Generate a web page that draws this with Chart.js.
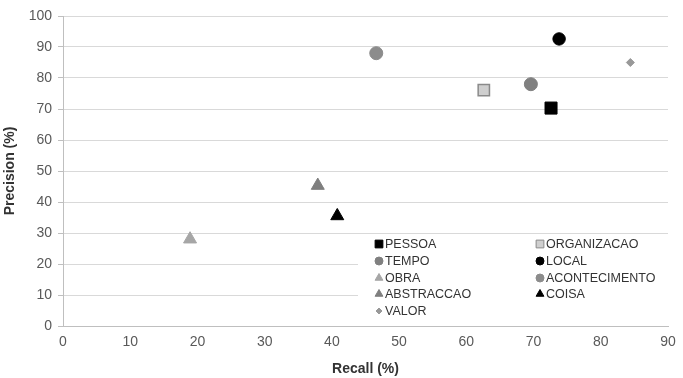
<!DOCTYPE html>
<html>
<head>
<meta charset="utf-8">
<script src="https://cdn.jsdelivr.net/npm/chart.js@4"></script>
<style>
  html, body { margin: 0; padding: 0; background: #fff; }
  #wrap { width: 683px; height: 378px; position: relative; }
</style>
</head>
<body>
<div id="wrap"><canvas id="chart" width="683" height="378"></canvas></div>
<script>
// recall (x) / precision (y) per category
const categories = ['PESSOA', 'ORGANIZACAO', 'TEMPO', 'LOCAL', 'OBRA', 'ACONTECIMENTO', 'ABSTRACCAO', 'COISA', 'VALOR'];
const recall    = [72.6, 62.6, 69.6, 73.8, 18.9, 46.6, 37.9, 40.8, 84.4];
const precision = [70.3, 76.1, 78.0, 92.6, 28.0, 88.0, 45.3, 35.5, 85.0];

const shapes  = ['rect', 'rect', 'circle', 'circle', 'triangle', 'circle', 'triangle', 'triangle', 'rectRot'];
const fills   = ['#000000', '#cfcfcf', '#808080', '#000000', '#a6a6a6', '#8c8c8c', '#7f7f7f', '#000000', '#999999'];
const borders = ['#000000', '#8a8a8a', '#808080', '#000000', '#a6a6a6', '#8c8c8c', '#7f7f7f', '#000000', '#999999'];
const sizes   = [8.5, 8, 6.5, 6.2, 7.5, 6.5, 7.5, 7.5, 4];

const datasets = categories.map((c, i) => ({
  label: c,
  data: [{ x: recall[i], y: precision[i] }],
  pointStyle: shapes[i],
  backgroundColor: fills[i],
  borderColor: borders[i],
  borderWidth: i === 1 ? 1.5 : 1,
  pointRadius: sizes[i],
  pointHoverRadius: sizes[i]
}));

const font = '"Liberation Sans", Arial, sans-serif';

// legend drawn inside the plot, on a white box
const boxLegend = {
  id: 'boxLegend',
  afterDatasetsDraw(chart) {
    const ctx = chart.ctx;
    const a = chart.chartArea;
    ctx.save();
    ctx.fillStyle = '#ffffff';
    ctx.fillRect(358, 237, a.right - 358, a.bottom - 237 - 1);
    ctx.font = '12.5px ' + font;
    ctx.textBaseline = 'middle';
    const cols = [379, 540];
    const rows = [244, 261, 278, 294, 311];
    chart.data.datasets.forEach((ds, i) => {
      const cx = cols[i % 2];
      const cy = rows[Math.floor(i / 2)];
      ctx.fillStyle = ds.backgroundColor;
      ctx.strokeStyle = ds.borderColor;
      ctx.lineWidth = 1;
      let r = 4;
      if (ds.pointStyle === 'rect') r = 5.5;
      if (ds.pointStyle === 'triangle') r = 4.5;
      if (ds.pointStyle === 'rectRot') r = 3;
      Chart.helpers.drawPoint(ctx, { pointStyle: ds.pointStyle, radius: r, rotation: 0, borderWidth: 1 }, cx, cy);
      ctx.fillStyle = '#333333';
      ctx.fillText(ds.label, cx + 6, cy + 1);
    });
    ctx.restore();
  }
};

new Chart(document.getElementById('chart'), {
  type: 'scatter',
  data: { datasets: datasets },
  options: {
    responsive: false,
    animation: false,
    layout: { padding: { top: 16, right: 15, left: 2, bottom: 0 } },
    plugins: { legend: { display: false }, tooltip: { enabled: false } },
    scales: {
      x: {
        min: 0, max: 90,
        ticks: { stepSize: 10, color: '#595959', font: { size: 14, family: font }, padding: 3 },
        grid: { display: false, drawTicks: true, tickLength: 5, color: '#bfbfbf' },
        border: { color: '#bfbfbf' },
        title: { display: true, text: 'Recall (%)', color: '#333', font: { size: 14, weight: 'bold', family: font }, padding: { top: 8, bottom: 0 } },
        afterFit(s) { s.height = 52; }
      },
      y: {
        min: 0, max: 100,
        ticks: { stepSize: 10, color: '#595959', font: { size: 14, family: font }, padding: 6 },
        grid: { color: '#d9d9d9', tickLength: 5, tickColor: '#bfbfbf' },
        border: { color: '#bfbfbf' },
        title: { display: true, text: 'Precision (%)', color: '#333', font: { size: 14, weight: 'bold', family: font }, padding: { top: 0, bottom: 0 } },
        afterFit(s) { s.width = 61; }
      }
    }
  },
  plugins: [boxLegend]
});
</script>
</body>
</html>
